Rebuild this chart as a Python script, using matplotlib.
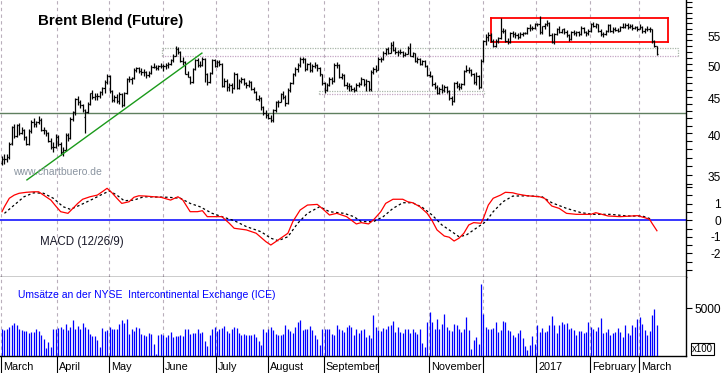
import matplotlib
matplotlib.use("Agg")
import matplotlib.pyplot as plt
import matplotlib.ticker as mticker
from matplotlib import transforms
import numpy as np
import pandas as pd

plt.rcParams['font.family'] = ['Liberation Sans', 'DejaVu Sans']

# trading days, 1 March 2016 .. 10 March 2017
dates = pd.bdate_range("2016-03-01", "2017-03-10")

# Brent daily bars (USD/bbl)
opens = [36.4, 36.9, 36.9, 37.1, 38.8, 40.8, 39.7, 41.1, 40.1, 40.4, 39.5, 38.7, 40.3, 41.5, 41.2, 41.5, 41.8, 40.5, 40.4, 40.0, 39.1, 38.3, 38.3,
         39.6, 38.7, 37.7, 37.9, 39.8, 39.4, 41.9, 42.8, 44.7, 44.2, 43.8, 42.2, 42.9, 44.0, 45.5, 45.0, 45.1, 45.1, 45.7, 46.3, 47.2,
         48.1, 45.8, 44.5, 45.0, 44.4, 45.4, 43.8, 45.5, 47.6, 47.6, 47.8, 49.0, 49.3, 48.9, 48.8, 48.7, 48.3, 48.6, 49.6, 49.6, 49.3, 49.7,
         49.7, 49.7, 49.9, 50.0, 50.6, 51.4, 52.5, 52.0, 50.5, 50.3, 48.5, 48.0, 47.2, 49.2, 50.6, 49.9, 49.9, 50.9, 48.4, 47.2, 48.6, 50.6,
         49.7, 50.4, 50.0, 46.6, 47.4, 46.4, 46.8, 46.3, 48.5, 46.3, 47.4, 47.6, 47.0, 46.7, 47.2, 46.2, 45.7, 44.7, 44.9, 43.5, 42.7,
         42.5, 42.1, 41.8, 43.1, 44.3, 44.3, 45.4, 45.0, 44.1, 46.0, 47.0, 48.4, 49.2, 49.9, 50.9, 50.9, 49.2, 50.0, 49.1, 49.7, 49.9, 49.3, 48.4,
         47.0, 46.0, 46.8, 47.6, 47.3, 49.9, 49.9, 48.0, 48.3, 46.8, 46.6, 46.6, 46.2, 46.0, 46.8, 46.9, 47.6, 46.9, 47.3, 46.1, 48.7, 49.2,
         49.1, 50.9, 50.9, 51.9, 52.5, 51.9, 53.1, 52.4, 52.0, 52.0, 52.0, 51.5, 51.7, 52.7, 51.4, 51.8, 50.5, 50.8, 50.0, 50.5, 49.7,
         48.3, 48.1, 46.9, 46.4, 45.6, 46.2, 46.0, 46.4, 45.8, 44.8, 44.4, 47.0, 46.6, 46.5, 46.9, 48.9, 49.1, 49.0, 48.5, 47.2, 48.2, 46.4,
         50.5, 53.9, 54.5, 54.9, 53.9, 53.0, 53.9, 54.3, 55.7, 55.7, 53.9, 53.6, 55.2, 55.0, 54.9, 54.5, 55.1, 55.2, 55.2, 56.1, 56.2, 56.1,
         56.8, 56.8, 55.5, 56.5, 56.9, 57.1, 54.9, 53.6, 55.1, 56.0, 55.5, 55.9, 55.5, 54.9, 54.2, 55.5, 55.2, 55.4, 55.1, 56.2, 55.5, 55.2,
         55.7, 56.8, 56.6, 56.8, 55.7, 55.1, 55.1, 55.6, 56.7, 55.6, 56.0, 55.8, 55.7, 56.3, 56.4, 56.7, 56.4, 56.6, 56.2, 56.3,
         56.0, 56.4, 55.6, 55.9, 56.0, 55.9, 53.8, 53.0]
highs = [37.2, 37.4, 37.5, 38.9, 41.0, 41.2, 41.3, 41.4, 40.8, 40.6, 39.7, 40.6, 41.8, 42.1, 41.7, 42.3, 42.0, 40.8, 40.5, 40.2, 39.4, 38.9, 39.9,
         39.8, 38.9, 38.3, 40.0, 40.1, 42.2, 43.0, 44.9, 45.1, 44.6, 44.0, 43.3, 44.3, 45.6, 46.0, 45.6, 45.5, 45.9, 46.5, 47.5, 48.5,
         48.3, 46.0, 45.3, 45.4, 45.7, 45.5, 45.7, 47.8, 48.2, 48.0, 49.3, 49.6, 49.5, 49.4, 49.2, 48.9, 48.9, 49.8, 50.1, 49.9, 49.9, 50.1,
         50.0, 50.1, 50.4, 50.8, 51.7, 53.0, 52.9, 52.1, 51.1, 50.5, 48.9, 48.2, 49.4, 50.8, 51.0, 50.5, 51.1, 51.0, 48.6, 48.8, 50.8, 50.8,
         50.6, 50.7, 50.1, 47.8, 47.6, 47.1, 47.0, 48.7, 48.6, 47.6, 47.9, 47.8, 47.2, 47.5, 47.3, 46.4, 45.8, 45.2, 45.0, 43.7, 43.1,
         42.7, 42.4, 43.3, 44.4, 44.6, 45.6, 45.8, 45.3, 46.3, 47.2, 48.6, 49.5, 50.1, 51.2, 51.2, 51.0, 50.2, 50.4, 50.0, 50.4, 50.0, 49.6, 48.5,
         47.2, 47.0, 47.9, 48.0, 50.1, 50.3, 50.0, 48.6, 48.4, 47.2, 47.0, 46.8, 46.5, 47.0, 47.2, 47.9, 47.7, 47.6, 47.4, 49.0, 49.6, 49.8,
         51.2, 51.2, 52.1, 52.7, 52.8, 53.7, 53.8, 52.8, 52.4, 52.5, 52.1, 52.0, 53.0, 53.5, 52.0, 51.9, 51.2, 51.0, 50.7, 50.6, 49.8,
         48.9, 48.3, 47.2, 46.8, 46.5, 46.9, 46.7, 46.6, 46.0, 45.1, 47.2, 47.4, 47.0, 47.1, 49.1, 49.9, 49.5, 49.2, 48.6, 48.8, 48.3, 50.9,
         54.0, 55.0, 55.4, 55.2, 54.2, 54.2, 54.6, 57.9, 56.1, 55.9, 54.4, 55.4, 55.6, 55.4, 55.3, 55.4, 55.5, 55.4, 56.3, 56.8, 56.6, 57.0,
         57.0, 58.4, 56.6, 57.1, 57.7, 57.3, 55.2, 55.3, 56.2, 56.5, 56.0, 56.1, 55.8, 55.1, 55.7, 55.8, 55.6, 55.7, 56.5, 56.4, 55.6, 56.0,
         57.0, 57.2, 57.0, 56.9, 55.9, 55.5, 55.8, 56.9, 56.8, 56.3, 56.4, 56.2, 56.5, 57.1, 57.0, 57.0, 56.9, 56.8, 56.6, 56.5,
         56.9, 56.6, 56.1, 56.5, 56.4, 56.0, 54.1, 53.0]
lows = [36.1, 36.3, 36.5, 36.9, 38.6, 39.4, 39.5, 39.8, 39.9, 39.2, 38.5, 38.6, 40.1, 40.9, 40.8, 41.2, 40.3, 39.9, 39.7, 38.9, 38.0, 37.7, 38.2,
        38.4, 37.3, 37.2, 37.8, 39.0, 39.3, 41.6, 42.4, 43.9, 43.4, 42.8, 40.1, 42.7, 43.8, 44.7, 44.6, 44.6, 44.8, 45.2, 45.6, 46.9,
        45.6, 44.3, 44.2, 44.1, 44.0, 43.5, 43.7, 45.4, 47.2, 46.9, 47.7, 48.7, 48.6, 48.3, 48.2, 47.8, 48.0, 48.5, 49.3, 49.0, 49.1, 49.3,
        48.9, 49.2, 49.4, 49.8, 50.4, 51.3, 51.7, 50.4, 49.9, 48.4, 47.9, 46.9, 47.1, 49.0, 49.6, 49.6, 49.7, 47.2, 46.7, 47.0, 48.5, 49.5,
        49.5, 49.7, 46.4, 46.5, 45.9, 45.9, 45.6, 46.2, 46.1, 46.1, 47.0, 46.7, 46.3, 46.5, 46.0, 45.5, 44.5, 44.4, 43.2, 42.5, 42.1,
        41.9, 41.5, 41.5, 42.9, 43.6, 44.2, 44.7, 43.7, 44.0, 45.7, 46.9, 48.2, 48.8, 49.6, 50.1, 48.9, 49.0, 48.8, 48.7, 49.3, 48.9, 48.1, 46.8,
        45.6, 45.8, 46.6, 46.9, 47.2, 49.3, 47.8, 47.6, 46.6, 46.1, 45.9, 45.8, 45.7, 45.8, 46.4, 46.7, 46.6, 45.9, 45.8, 45.9, 48.5, 48.8,
        49.0, 50.4, 50.7, 51.5, 51.6, 51.8, 52.2, 51.7, 51.3, 51.6, 51.2, 51.3, 51.6, 51.3, 51.1, 50.3, 50.2, 49.8, 49.8, 49.5, 48.2,
        47.9, 46.6, 46.1, 45.4, 45.4, 45.6, 45.7, 45.5, 44.6, 43.9, 44.2, 46.3, 46.0, 46.2, 46.8, 48.7, 48.6, 48.2, 46.9, 46.8, 46.2, 46.3,
        50.3, 53.2, 53.8, 53.6, 52.9, 52.9, 53.5, 54.2, 55.2, 53.7, 53.4, 53.5, 54.6, 54.4, 54.2, 54.3, 54.8, 55.0, 55.0, 55.6, 55.8, 55.9,
        56.6, 55.1, 55.0, 56.0, 56.6, 54.8, 53.5, 53.4, 54.9, 55.3, 55.2, 55.0, 54.6, 53.8, 54.0, 54.9, 54.8, 54.8, 54.9, 55.3, 54.8, 54.9,
        55.5, 56.3, 56.1, 55.5, 54.8, 54.6, 54.9, 55.4, 55.4, 55.3, 55.6, 55.4, 55.6, 56.1, 56.2, 56.0, 56.1, 55.8, 55.9, 55.7,
        55.9, 55.3, 55.3, 55.7, 55.5, 53.5, 52.8, 51.5]
closes = [36.9, 36.9, 37.1, 38.7, 40.8, 39.7, 41.1, 40.1, 40.4, 39.5, 38.7, 40.3, 41.5, 41.2, 41.5, 41.8, 40.5, 40.4, 40.0, 39.1, 38.3, 38.3, 39.6,
          38.7, 37.7, 37.9, 39.8, 39.4, 41.9, 42.8, 44.7, 44.2, 43.8, 43.1, 42.9, 44.0, 45.5, 45.0, 45.1, 45.1, 45.7, 46.3, 47.2, 48.1,
          45.8, 44.5, 45.0, 44.4, 45.4, 43.8, 45.5, 47.6, 47.6, 47.8, 49.0, 49.3, 48.9, 48.8, 48.7, 48.3, 48.6, 49.6, 49.6, 49.3, 49.7, 49.7,
          49.7, 49.9, 50.0, 50.6, 51.4, 52.5, 52.0, 50.5, 50.3, 48.5, 48.0, 47.2, 49.2, 50.6, 49.9, 49.9, 50.9, 48.4, 47.2, 48.6, 50.6, 49.7,
          50.4, 50.0, 46.6, 47.4, 46.4, 46.8, 46.3, 48.5, 46.3, 47.4, 47.6, 47.0, 46.7, 47.2, 46.2, 45.7, 44.7, 44.9, 43.5, 42.7, 42.5,
          42.1, 41.8, 43.1, 44.3, 44.3, 45.4, 45.0, 44.1, 46.0, 47.0, 48.4, 49.2, 49.9, 50.9, 50.9, 49.2, 50.0, 49.1, 49.7, 49.9, 49.3, 48.4, 47.0,
          46.0, 46.8, 47.6, 47.3, 49.9, 49.9, 48.0, 48.3, 46.8, 46.6, 46.6, 46.2, 46.0, 46.8, 46.9, 47.6, 46.9, 47.3, 46.1, 48.7, 49.2, 49.1,
          50.9, 50.9, 51.9, 52.5, 51.9, 53.1, 52.4, 52.0, 52.0, 52.0, 51.5, 51.7, 52.7, 51.4, 51.8, 50.5, 50.8, 50.0, 50.5, 49.7, 48.3,
          48.1, 46.9, 46.4, 45.6, 46.2, 46.0, 46.4, 45.8, 44.8, 44.4, 47.0, 46.6, 46.5, 46.9, 48.9, 49.1, 49.0, 48.5, 47.2, 48.2, 46.4, 50.5,
          53.9, 54.5, 54.9, 53.9, 53.0, 53.9, 54.3, 55.7, 55.7, 53.9, 53.6, 55.2, 55.0, 54.9, 54.5, 55.1, 55.2, 55.2, 56.1, 56.2, 56.1, 56.8,
          56.8, 55.5, 56.5, 56.9, 57.1, 54.9, 53.6, 55.1, 56.0, 55.5, 55.9, 55.5, 54.9, 54.2, 55.5, 55.2, 55.4, 55.1, 56.2, 55.5, 55.2, 55.7,
          56.8, 56.6, 56.8, 55.7, 55.1, 55.1, 55.6, 56.7, 55.6, 56.0, 55.8, 55.7, 56.3, 56.4, 56.7, 56.4, 56.6, 56.2, 56.3, 56.0,
          56.4, 55.6, 55.9, 56.0, 55.9, 53.8, 53.0, 51.7]

# ICE volume, in hundreds of contracts
volume = [2850, 2670, 2850, 3020, 3260, 3470, 3260, 2780, 2670, 2570, 2570, 2400, 2500, 2500, 2850, 2570, 2220, 1800, 830, 1460, 940, 2850, 2850,
          2910, 3020, 2850, 3360, 2670, 3020, 3710, 2850, 3100, 2850, 3470, 3020, 2850, 2300, 2050, 2050, 1630, 940, 2910, 2600, 2700,
          3000, 2850, 2850, 2850, 3360, 3710, 3470, 3810, 2320, 2850, 2600, 3020, 2910, 2320, 2150, 2050, 2400, 2320, 1280, 240, 2220, 2320,
          2150, 1980, 2220, 2500, 1980, 2080, 2080, 2200, 2080, 2850, 2780, 2320, 2430, 2430, 2850, 2400, 2500, 1530, 1040, 2150, 2850, 3020,
          2600, 2850, 2910, 3090, 2600, 2430, 2850, 3020, 2910, 2430, 2150, 2300, 2220, 2150, 2220, 2320, 1980, 1530, 1110, 2850, 2500,
          2850, 3020, 2670, 2300, 2150, 2150, 2320, 3190, 2850, 2600, 2430, 3000, 3540, 3710, 2670, 2850, 2850, 3120, 2670, 2150, 1730, 1110, 2850,
          2850, 2780, 2850, 2320, 2150, 3190, 2850, 2670, 2500, 3020, 3260, 3020, 2150, 2850, 2430, 2670, 2850, 1980, 2220, 1870, 4300, 3020,
          2670, 2570, 2910, 2850, 3120, 3190, 3610, 2500, 3020, 2500, 2430, 2780, 2780, 2430, 2780, 2500, 2320, 2780, 1350, 940, 3540,
          4580, 3540, 2780, 3890, 2850, 3360, 4410, 3020, 2670, 2570, 3360, 3260, 2780, 2500, 2780, 4060, 2670, 760, 1630, 1980, 1280, 7530,
          4410, 3020, 2850, 2850, 2910, 3540, 2500, 2670, 3610, 3540, 2670, 2570, 2150, 1980, 2430, 2670, 1870, 1040, 590, 1110, 2050, 1280,
          3260, 2500, 2910, 2500, 2570, 3190, 4130, 3260, 2430, 3190, 3540, 3360, 3470, 2780, 2910, 2700, 2220, 2570, 2570, 2430, 2500, 3540,
          3020, 2850, 2570, 3020, 3960, 2430, 2500, 2780, 2220, 2430, 2500, 2910, 2500, 1980, 3260, 2430, 2150, 3190, 3020, 3890,
          4060, 3360, 2670, 2220, 2570, 4300, 4930, 3260]

macd_bar = [0, 1, 3, 5, 7, 10, 13, 15, 17, 20, 22, 24, 27, 29, 31, 33, 36, 39, 41, 43, 45, 47, 49, 52, 54, 56, 59, 62, 65, 69,
            72, 74, 77, 80, 82, 84, 87, 90, 93, 95, 100, 104, 108, 110, 112, 117, 119, 122, 125, 129, 131, 134, 137, 141, 145,
            147, 150, 152, 155, 157, 160, 164, 166, 168, 171, 174, 176, 178, 181, 183, 185, 187, 189, 191, 193, 196, 197, 199,
            201, 204, 206, 209, 211, 215, 220, 222, 225, 228, 231, 235, 241, 243, 248, 253, 260, 263, 265, 266, 268]
macd_val = [0.52, 0.82, 1.33, 1.52, 1.63, 1.69, 1.72, 1.72, 1.52, 1.22, 0.86, 0.52, 0.42, 0.72, 1.02, 1.27, 1.42, 1.52, 1.72, 1.93,
            1.66, 1.33, 1.02, 1.12, 1.39, 1.48, 1.46, 1.42, 1.39, 1.22, 1.42, 1.22, 0.52, 0.52, 0.58, 0.22, 0.22, 0.22, -0.18,
            -0.48, -0.58, -0.78, -1.29, -1.49, -1.29, -0.78, -0.08, 0.62, 0.92, 0.96, 0.72, 0.32, 0.42, 0.22, -0.22,
            -0.14, -0.22, 0.02, 0.52, 1.02, 1.27, 1.27, 1.12, 1.06, 0.82, 0.42, -0.02, -0.58, -0.95, -1.02, -1.25, -1.08,
            -0.78, -0.28, -0.14, -0.18, 0.12, 0.92, 1.33, 1.52, 1.69, 1.66, 1.58, 1.48, 1.42, 1.33, 0.86, 0.72, 0.42, 0.36,
            0.36, 0.46, 0.26, 0.22, 0.28, 0.16, 0.06, -0.18, -0.63]
signal_bar = [1, 5, 9, 13, 17, 21, 25, 28, 32, 37, 41, 44, 47, 50, 54, 58, 68, 73, 77, 81, 86, 90, 95, 100, 106, 110,
              113, 117, 121, 125, 130, 134, 140, 144, 147, 152, 156, 160, 164, 168, 172, 176, 180, 185, 187, 190, 194,
              198, 201, 205, 209, 215, 221, 225, 231, 237, 242, 249, 256, 262, 266]
signal_val = [0.42, 0.92, 1.42, 1.66, 1.63, 1.33, 0.82, 0.66, 0.92, 1.27, 1.57, 1.77, 1.52, 1.18, 1.22, 1.42, 1.39, 1.33,
              1.02, 0.82, 0.42, 0.22, -0.02, -0.38, -0.69, -1.08, -1.23, -0.99, -0.18, 0.42, 0.82, 0.52, 0.42, 0.22,
              -0.08, -0.08, 0.22, 0.72, 1.06, 1.06, 0.78, 0.32, -0.28, -0.78, -0.99, -0.89, -0.48, -0.08, 0.52, 1.12,
              1.46, 1.48, 1.42, 1.06, 0.72, 0.46, 0.36, 0.36, 0.26, 0.26, 0.06]

# month captions under the axis (October and December carry none)
month_names = ["March", "April", "May", "June", "July", "August", "September", "",
               "November", "", "2017", "February", "March"]

price_ticks = [55, 50, 45, 40, 35]
macd_ticks = [1, 0, -1, -2]
vol_ticks = [5000]

# analyst markings
trend_x = [10.2, 81.8]
trend_y = [34.45, 51.8]
support_level = 42.7
red_box = (200.1, 272.5, 53.65, 57.95)
grey_box = (65.5, 276.6, 51.25, 52.6)
grey_box_split = 196.8
low_box = (129.7, 197.2, 45.4, 45.9)

W, H = 723, 373
fig = plt.figure(figsize=(W / 100, H / 100), dpi=100)
fig.patch.set_facecolor('white')


def frame(top, bottom):
    return fig.add_axes([0, (H - bottom) / H, 686 / W, (bottom - top) / H])


ax_p = frame(0, 184)
ax_m = frame(184, 277)
ax_v = frame(277, 356)

n = len(closes)
x = np.arange(n)
xlim = (-0.82, 279.9)

month_pos = [i for i in range(n) if i == 0 or dates[i].month != dates[i - 1].month]
grid_col = '#b9aebb'

for ax in (ax_p, ax_m, ax_v):
    ax.set_xlim(*xlim)
    ax.set_facecolor('white')
    for s in ('left', 'top'):
        ax.spines[s].set_visible(False)
    ax.spines['right'].set_linewidth(1.0)
    ax.yaxis.tick_right()
    ax.set_xticks([])
    for m in month_pos:
        ax.axvline(m - 0.3, color=grid_col, lw=0.8, ls=(0, (3, 3)), zorder=0)
    ax.tick_params(axis='y', which='both', direction='out', length=4, width=0.8,
                   labelsize=8.6, pad=21, colors='black')

# ---- price panel ----
ax_p.set_yscale('log')
ax_p.set_ylim(34.0, 61.45)
ax_p.spines['bottom'].set_visible(False)
ax_p.vlines(x, lows, highs, color='black', lw=0.9, zorder=3)
ax_p.hlines(opens, x - 0.5, x, color='black', lw=0.9, zorder=3)
ax_p.hlines(closes, x, x + 0.5, color='black', lw=0.9, zorder=3)
ax_p.yaxis.set_major_locator(mticker.FixedLocator(price_ticks))
ax_p.yaxis.set_major_formatter(mticker.FixedFormatter([str(t) for t in price_ticks]))
ax_p.yaxis.set_minor_locator(mticker.FixedLocator([v for v in range(34, 62) if v not in price_ticks]))
ax_p.yaxis.set_minor_formatter(mticker.NullFormatter())
shift = transforms.ScaledTranslation(0, -2 / 100, fig.dpi_scale_trans)
for lab in ax_p.get_yticklabels():
    lab.set_horizontalalignment('right')
    lab.set_transform(lab.get_transform() + shift)

ax_p.axhline(support_level, color='#5f7f5f', lw=1.0, zorder=2)
ax_p.plot(trend_x, trend_y, color='#1a9a1a', lw=1.0, zorder=4)


def box(ax, b, top_col, bot_col, lw, ls):
    x0, x1, y0, y1 = b
    ax.plot([x0, x1], [y1, y1], color=top_col, lw=lw, ls=ls, zorder=2)
    ax.plot([x0, x1], [y0, y0], color=bot_col, lw=lw, ls=ls, zorder=2)
    ax.plot([x0, x0], [y0, y1], color=top_col, lw=lw, ls=ls, zorder=2)
    ax.plot([x1, x1], [y0, y1], color=top_col, lw=lw, ls=ls, zorder=2)


box(ax_p, grey_box, '#a9b7a9', '#c4a6c4', 0.9, (0, (1, 1)))
ax_p.plot([grey_box_split] * 2, grey_box[2:], color='#a9b7a9', lw=0.9, ls=(0, (1, 1)))
box(ax_p, low_box, '#a9b7a9', '#c4a6c4', 0.9, (0, (1, 1)))
box(ax_p, red_box, '#ff0000', '#ff0000', 1.3, '-')

fig.text(38 / W, 1 - 21 / H, 'Brent Blend (Future)', fontsize=10.8, fontweight='bold',
         color='black', va='center')
fig.text(13 / W, 1 - 172 / H, 'www.chartbuero.de', fontsize=7.5, color='#8a94a0', va='center')

# ---- MACD panel ----
ax_m.set_ylim(-3.42, 2.19)
ax_m.spines['bottom'].set_visible(True)
ax_m.spines['bottom'].set_linewidth(1.0)
ax_m.axhline(0, color='#0000ff', lw=1.1, zorder=2)
ax_m.plot(signal_bar, signal_val, color='black', lw=0.9, ls=(0, (2, 2)), zorder=3)
ax_m.plot(macd_bar, macd_val, color='#ff0000', lw=0.9, zorder=4)
ax_m.yaxis.set_major_locator(mticker.FixedLocator(macd_ticks))
ax_m.yaxis.set_major_formatter(mticker.FixedFormatter([str(t) for t in macd_ticks]))
ax_m.yaxis.set_minor_locator(mticker.FixedLocator([2, 1.5, 0.5, -0.5, -1.5, -2.5, -3]))
for lab in ax_m.get_yticklabels():
    lab.set_horizontalalignment('right')
fig.text(40 / W, 1 - 242 / H, 'MACD (12/26/9)', fontsize=8.3, color='#1a1a2a', va='center')

# ---- volume panel ----
ax_v.set_ylim(0, 8230)
ax_v.spines['bottom'].set_linewidth(1.0)
ax_v.vlines(x, 0, volume, color='#0000ff', lw=0.9, zorder=3)
ax_v.yaxis.set_major_locator(mticker.FixedLocator(vol_ticks))
ax_v.yaxis.set_major_formatter(mticker.FixedFormatter([str(t) for t in vol_ticks]))
for lab in ax_v.get_yticklabels():
    lab.set_horizontalalignment('right')
fig.text(18 / W, 1 - 295 / H, 'Umsätze an der NYSE  Intercontinental Exchange (ICE)',
         fontsize=7.5, color='#0000ff', va='center')
fig.text(692 / W, 1 - 349 / H, 'x100', fontsize=7, color='black', va='center',
         bbox=dict(boxstyle='square,pad=0.15', fc='white', ec='black', lw=0.8))

# month captions
xa = transforms.blended_transform_factory(ax_v.transData, ax_v.transAxes)
for m, name in zip(month_pos, month_names):
    ax_v.plot([m - 0.3, m - 0.3], [0, -0.2], color='black', lw=0.8, clip_on=False, transform=xa)
    if name:
        ax_v.text(m + 0.5, -0.08, name, fontsize=7.8, va='top', ha='left', transform=xa)

fig.savefig('out.png', dpi=100)
